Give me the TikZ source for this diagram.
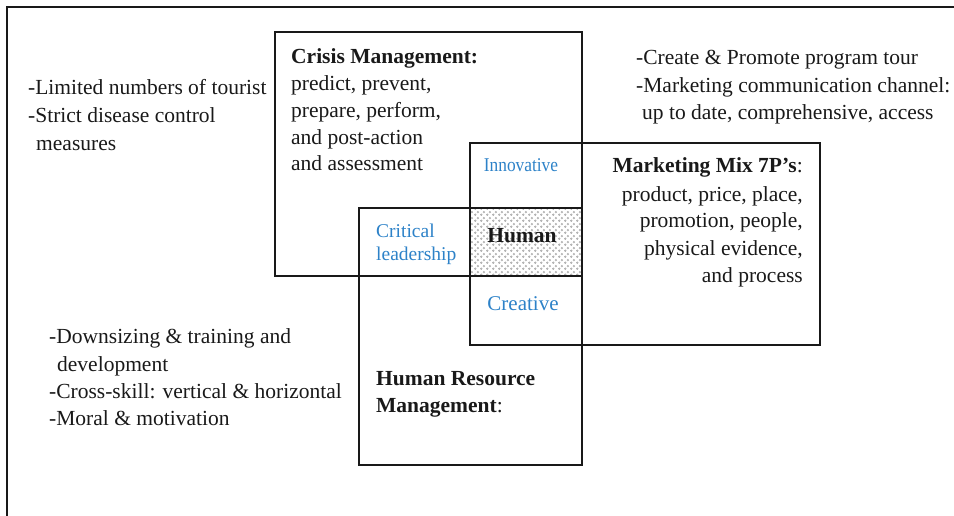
\documentclass[tikz,border=0pt]{standalone}
\usepackage{fontspec}
\setmainfont{Liberation Serif}
\usetikzlibrary{patterns.meta}
\definecolor{inkblue}{RGB}{45,130,200}
\definecolor{ink}{RGB}{25,25,25}
% small rings on a diagonal grid for the shared core cell
\tikzdeclarepattern{
  name=ringdots,
  type=uncolored,
  bounding box={(0pt,0pt) and (6pt,6pt)},
  tile size={(6pt,6pt)},
  code={
    \pgfsetlinewidth{0.5pt}
    \pgfpathcircle{\pgfpoint{1.5pt}{1.5pt}}{1pt}
    \pgfpathcircle{\pgfpoint{4.5pt}{4.5pt}}{1pt}
    \pgfusepath{stroke}
  }
}
\begin{document}
\begin{tikzpicture}[x=1pt,y=-1pt,
  txt/.style={inner sep=0pt, text=ink, font=\fontsize{21.5}{26}\selectfont},
  txtb/.style={txt, font=\fontsize{21.5}{26}\selectfont\bfseries},
  lft/.style={anchor=base west},
  rgt/.style={anchor=base east},
  ctr/.style={anchor=base},
  trait/.style={inner sep=0pt, text=inkblue, font=\fontsize{19.5}{24}\selectfont},
  area/.style={draw=ink, line width=1.3pt, inner sep=0pt, outer sep=0pt, anchor=north west}]
\useasboundingbox (0,0) rectangle (954,516);

% page frame (top and left rules)
\draw[line width=2pt, ink] (954,7) -- (7,7) -- (7,516);

% shared core cell
\fill[pattern=ringdots, pattern color=gray!80] (470,208) rectangle (582,276);

% the three overlapping areas
\node[area, minimum width=307pt, minimum height=244pt] (crisis) at (275,32) {};
\node[area, minimum width=350pt, minimum height=202pt] (mix) at (470,143) {};
\node[area, minimum width=223pt, minimum height=257pt] (hrm) at (359,208) {};

% notes, upper left
\node[txt, lft] (t1) at (28,95) {-Limited numbers of tourist};
\node[txt, lft] (t2) at (28,123) {-Strict disease control};
\node[txt, lft] (t3) at (36,151) {measures};

% crisis management
\node[txtb, lft] (c0) at (291,64) {Crisis Management:};
\node[txt, lft] (c1) at (291,91) {predict, prevent,};
\node[txt, lft] (c2) at (291,118) {prepare, perform,};
\node[txt, lft] (c3) at (291,145) {and post-action};
\node[txt, lft] (c4) at (291,171) {and assessment};

% notes, upper right
\node[txt, lft] (r1) at (636,65) {-Create \& Promote program tour};
\node[txt, lft] (r2) at (636,93) {-Marketing communication channel:};
\node[txt, lft] (r3) at (642,120) {up to date, comprehensive, access};

% marketing mix
\node[txt, rgt] (m0) at (803,173) {\textbf{Marketing Mix 7P’s}:};
\node[txt, rgt] (m1) at (803,201) {product, price, place,};
\node[txt, rgt] (m2) at (803,228) {promotion, people,};
\node[txt, rgt] (m3) at (803,255) {physical evidence,};
\node[txt, rgt] (m4) at (803,282) {and process};

% human resource management
\node[txt, lft] (h0) at (376,385) {\textbf{Human Resource}};
\node[txt, lft] (h1) at (376,412) {\textbf{Management}:};

% notes, lower left
\node[txt, lft] (b1) at (49,343) {-Downsizing \& training and};
\node[txt, lft] (b2) at (57,371) {development};
\node[txt, lft] (b3) at (49,398) {-Cross-skill: vertical \& horizontal};
\node[txt, lft] (b4) at (49,425) {-Moral \& motivation};

% overlap labels
\node[trait, ctr] (inno) at (521,172) {\scalebox{0.89}[1]{Innovative}};
\node[trait, lft] (crit) at (376,237) {Critical};
\node[trait, lft] (lead) at (376,260) {leadership};
\node[trait, ctr, font=\fontsize{21}{24}\selectfont] (crea) at (523,310) {Creative};
\node[txtb, ctr] (human) at (522,243) {Human};
\end{tikzpicture}
\end{document}
